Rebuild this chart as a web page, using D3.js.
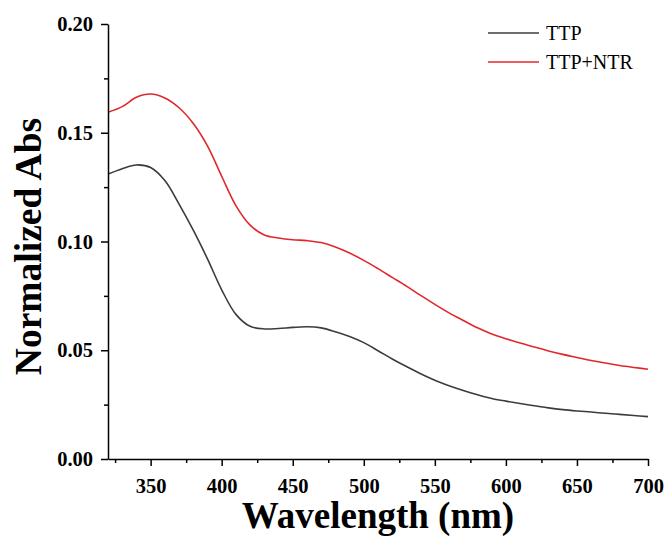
<!DOCTYPE html>
<html>
  <head>
    <meta charset="utf-8" />
    <title>Normalized Abs</title>
    <script src="https://d3js.org/d3.v7.min.js"></script>
    <style>
        body{
            margin:0;
            background:#fff;
        }
        text{
            font-family: "Liberation Serif", "Times New Roman", serif;
        }
    </style>
  </head>
  <body>
    <svg id="chart">
        <g id="lines"></g>
        <g id="x"></g>
        <g id="y"></g>
        <g id="legend"></g>
    </svg>

    <script>
      // wavelength (nm)
      var wavelength = [320, 330, 340, 350, 360, 370, 380, 390, 400, 410,
                        420, 430, 440, 450, 460, 470, 480, 490, 500, 510,
                        520, 530, 540, 550, 560, 570, 580, 590, 600, 610,
                        620, 630, 640, 650, 660, 670, 680, 690, 700];
      var ttp = [0.1310, 0.1335, 0.1352, 0.1340, 0.1280, 0.1172, 0.1052, 0.0920, 0.0778, 0.0665,
                 0.0610, 0.0598, 0.0600, 0.0605, 0.0608, 0.0603, 0.0585, 0.0563, 0.0535, 0.0498,
                 0.0460, 0.0425, 0.0392, 0.0362, 0.0337, 0.0315, 0.0295, 0.0278, 0.0266, 0.0255,
                 0.0245, 0.0235, 0.0227, 0.0221, 0.0216, 0.0210, 0.0205, 0.0200, 0.0195];
      var ttpNtr = [0.1594, 0.1620, 0.1663, 0.1678, 0.1660, 0.1615, 0.1543, 0.1440, 0.1300, 0.1165,
                    0.1075, 0.1030, 0.1016, 0.1008, 0.1004, 0.0995, 0.0975, 0.0947, 0.0913, 0.0875,
                    0.0835, 0.0795, 0.0752, 0.0711, 0.0672, 0.0637, 0.0603, 0.0575, 0.0553, 0.0533,
                    0.0515, 0.0497, 0.0481, 0.0467, 0.0453, 0.0441, 0.0430, 0.0421, 0.0413];
      var seriesNames = ["TTP", "TTP+NTR"];
      var seriesColors = ["#3c3c3c", "#e0282c"];
      var xTicks = [350, 400, 450, 500, 550, 600, 650, 700];
      var xMinor = [325, 375, 425, 475, 525, 575, 625, 675];
      var yTicks = [0, 0.05, 0.10, 0.15, 0.20];
      var yMinor = [0.025, 0.075, 0.125, 0.175];

      var width = 669;
      var height = 538;
      var margin = {top: 24, right: 21, bottom: 79, left: 108};

      var svg = d3.select("#chart")
        .attr("width", width)
        .attr("height", height);

      var x = d3.scaleLinear()
        .domain([320, 700])
        .range([margin.left, width - margin.right]);

      var y = d3.scaleLinear()
        .domain([0, 0.20])
        .range([height - margin.bottom, margin.top]);

      var series = [ttp, ttpNtr];

      var line = d3.line()
        .x(function(d, i) { return x(wavelength[i]); })
        .y(function(d) { return y(d); })
        .curve(d3.curveCatmullRom.alpha(0.5));

      svg.select("#lines").selectAll("path")
        .data(series)
        .enter().append("path")
        .attr("d", line)
        .attr("fill", "none")
        .attr("stroke", function(d, i) { return seriesColors[i]; })
        .attr("stroke-width", 1.6);

      // minor ticks first, then major axis over them
      var xg = svg.select("#x")
        .attr("transform", "translate(0," + y(0) + ")");
      xg.append("g")
        .call(d3.axisBottom(x).tickValues(xMinor).tickSize(4).tickFormat(""))
        .select(".domain").remove();
      xg.append("g")
        .call(d3.axisBottom(x).tickValues(xTicks).tickSize(7).tickSizeOuter(0).tickPadding(12)
          .tickFormat(d3.format("d")));

      var yg = svg.select("#y")
        .attr("transform", "translate(" + x(320) + ",0)");
      yg.append("g")
        .call(d3.axisLeft(y).tickValues(yMinor).tickSize(4).tickFormat(""))
        .select(".domain").remove();
      yg.append("g")
        .call(d3.axisLeft(y).tickValues(yTicks).tickSize(7).tickSizeOuter(0).tickPadding(8)
          .tickFormat(d3.format(".2f")));

      svg.selectAll("#x path, #y path, #x line, #y line")
        .attr("stroke", "#000")
        .attr("stroke-width", 1.5);

      svg.selectAll("#x text, #y text")
        .attr("font-size", 20.5)
        .attr("font-weight", "bold")
        .attr("font-family", "Liberation Serif, serif")
        .attr("fill", "#000");

      svg.append("text")
        .attr("x", (x(320) + x(700)) / 2)
        .attr("y", 528)
        .attr("text-anchor", "middle")
        .attr("font-size", 37)
        .attr("font-weight", "bold")
        .text("Wavelength (nm)");

      svg.append("text")
        .attr("transform", "translate(41," + (y(0.1) + 5) + ") rotate(-90)")
        .attr("text-anchor", "middle")
        .attr("font-size", 37.5)
        .attr("font-weight", "bold")
        .text("Normalized Abs");

      // legend
      var legend = svg.select("#legend").selectAll("g")
        .data(seriesNames)
        .enter().append("g")
        .attr("transform", function(d, i) { return "translate(488," + (33 + i * 29) + ")"; });
      legend.append("line")
        .attr("x1", 0).attr("x2", 51)
        .attr("stroke", function(d, i) { return seriesColors[i]; })
        .attr("stroke-width", 1.6);
      legend.append("text")
        .attr("x", 58)
        .attr("y", 7)
        .attr("font-size", 20)
        .text(function(d) { return d; });
    </script>
  </body>
</html>
